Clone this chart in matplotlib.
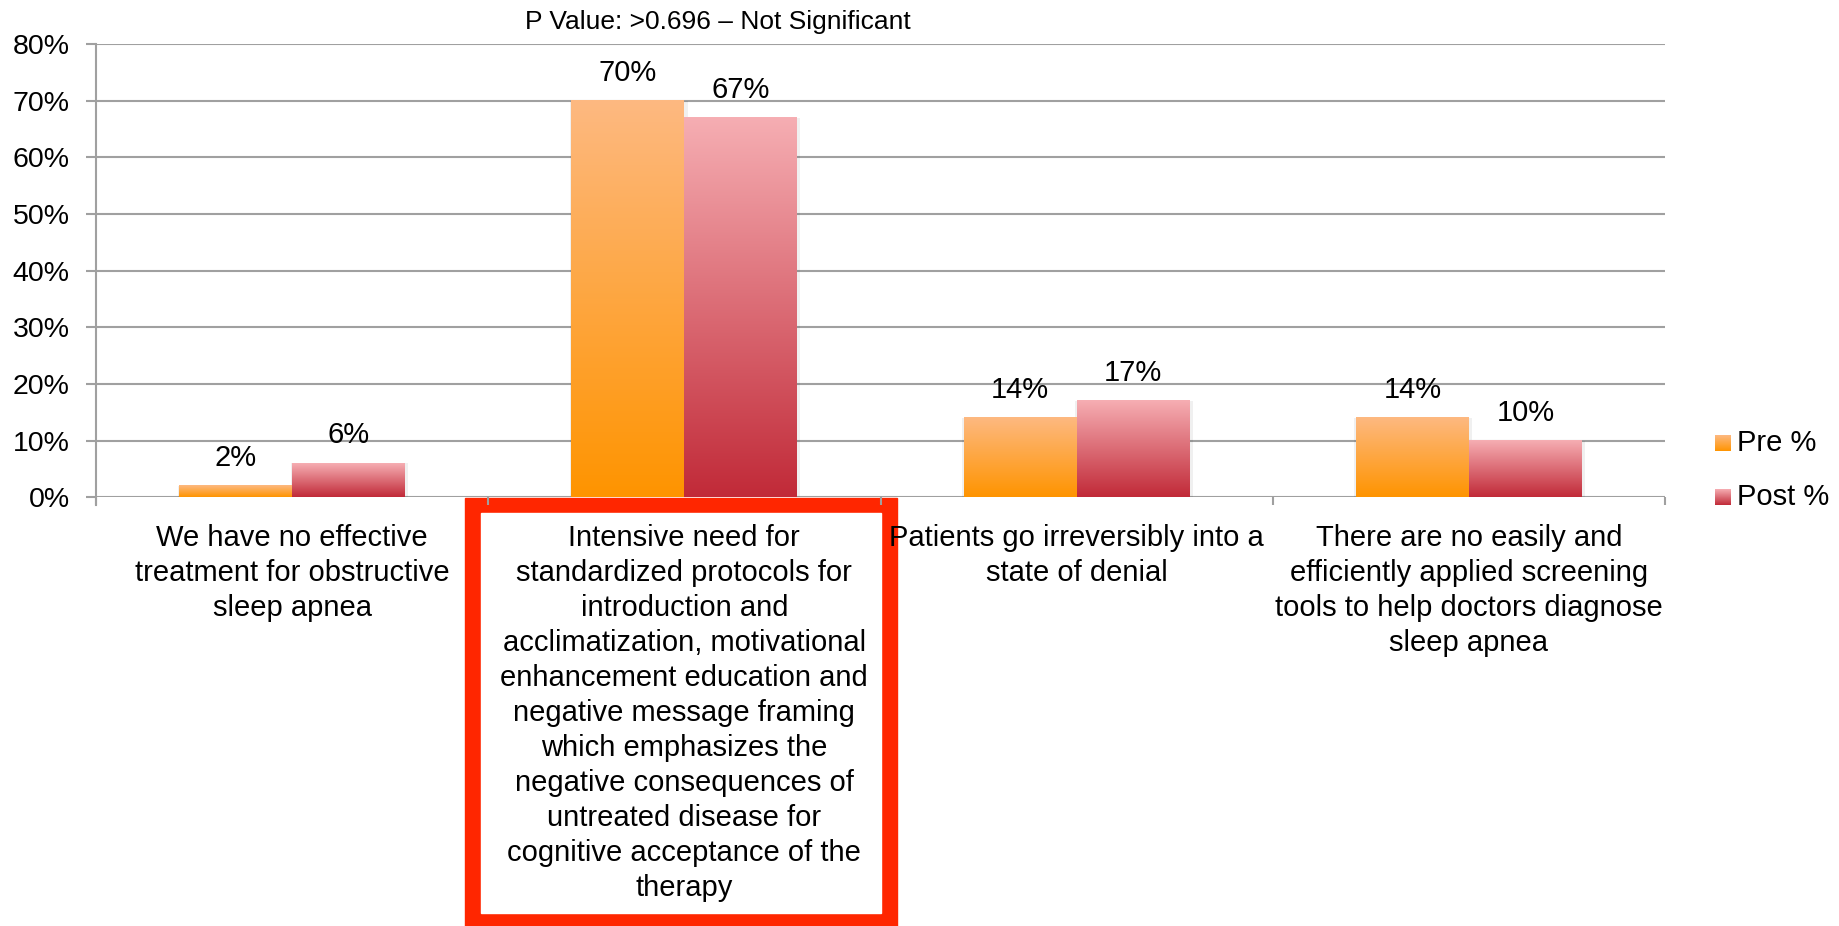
import numpy as np
import matplotlib
matplotlib.use("Agg")
import matplotlib.pyplot as plt
from matplotlib.colors import LinearSegmentedColormap
from matplotlib.patches import Rectangle

plt.rcParams["font.family"] = ["Liberation Sans", "DejaVu Sans"]

categories = [
    "We have no effective\ntreatment for obstructive\nsleep apnea",
    "Intensive need for\nstandardized protocols for\nintroduction and\n"
    "acclimatization, motivational\nenhancement education and\n"
    "negative message framing\nwhich emphasizes the\n"
    "negative consequences of\nuntreated disease for\n"
    "cognitive acceptance of the\ntherapy",
    "Patients go irreversibly into a\nstate of denial",
    "There are no easily and\nefficiently applied screening\n"
    "tools to help doctors diagnose\nsleep apnea",
]
pre_pct = [2, 70, 14, 14]
post_pct = [6, 67, 17, 10]
series_names = ["Pre %", "Post %"]
y_ticks = [0, 10, 20, 30, 40, 50, 60, 70, 80]
note = "P Value: >0.696 \u2013 Not Significant"

W, H = 1839, 926
fig = plt.figure(figsize=(W / 100, H / 100), dpi=100)
ax = fig.add_axes([96 / W, (H - 497.3) / H, (1665 - 96) / W, (497.3 - 44) / H])

pre_cmap = LinearSegmentedColormap.from_list("pre", ["#FF9400", "#FDB981"])
post_cmap = LinearSegmentedColormap.from_list("post", ["#C12A38", "#F6AEB3"])
grad = np.linspace(0, 1, 256).reshape(-1, 1)

bw = 0.288
x = np.arange(len(categories))
grid_c = "#A0A0A0"

ax.set_xlim(-0.5, len(categories) - 0.5)
ax.set_ylim(0, 80)
for yv in y_ticks:
    ax.axhline(yv, color=grid_c, lw=1.5, zorder=1)

for values, offset, cmap in [(pre_pct, -bw, pre_cmap), (post_pct, 0, post_cmap)]:
    bars = ax.bar(x + offset, values, width=bw, align="edge", color="none", zorder=3)
    for b, v in zip(bars, values):
        x0 = b.get_x()
        # soft shadow on the sides
        ax.add_patch(Rectangle((x0 - 0.004, 0), bw + 0.012, v, color="#000000",
                               alpha=0.06, lw=0, zorder=2))
        ax.imshow(grad, cmap=cmap, origin="lower", aspect="auto",
                  extent=(x0, x0 + bw, 0, v), zorder=3)
        ax.annotate(f"{v}%", (x0 + bw / 2, v), xytext=(0, 10), textcoords="offset points",
                    ha="center", va="bottom", fontsize=21)

ax.set_yticks(y_ticks)
ax.set_yticklabels([f"{v}%" for v in y_ticks], fontsize=20.5)
ax.set_xticks(x)
ax.set_xticklabels(categories, fontsize=21, linespacing=1.32, va="top")
ax.set_xticks(np.arange(-0.5, len(categories)), minor=True)
ax.tick_params(axis="x", which="major", length=0, pad=19)
ax.tick_params(axis="x", which="minor", length=6, width=1.5, color=grid_c, direction="out")
ax.tick_params(axis="y", length=7, width=1.5, color=grid_c, pad=12)
for s in ["top", "right", "bottom"]:
    ax.spines[s].set_visible(False)
ax.spines["left"].set_color(grid_c)
ax.spines["left"].set_linewidth(1.5)
ax.spines["left"].set_bounds(-1.3, 80)
ax.spines["left"].set_zorder(1)

fig.text(718 / W, (H - 22) / H, note, fontsize=19, ha="center", va="center")

# highlight box around the second category
fig.add_artist(Rectangle((465 / W, 0), (897 - 465) / W, (H - 498) / H,
                         transform=fig.transFigure, color="#FF2600", zorder=-2))
fig.add_artist(Rectangle((481 / W, 13 / H), (881 - 481) / W, (H - 513 - 13) / H,
                         transform=fig.transFigure, color="white", zorder=-1))

# legend with gradient swatches
for i, (name, cmap) in enumerate(zip(series_names, [pre_cmap, post_cmap])):
    cy = 443 + i * 54
    sw = fig.add_axes([1715 / W, (H - cy - 8) / H, 16 / W, 16 / H])
    sw.imshow(grad, cmap=cmap, origin="lower", aspect="auto")
    sw.axis("off")
    fig.text(1737 / W, (H - cy) / H, name, fontsize=21, va="center", ha="left")

fig.savefig("out.png", dpi=100)
